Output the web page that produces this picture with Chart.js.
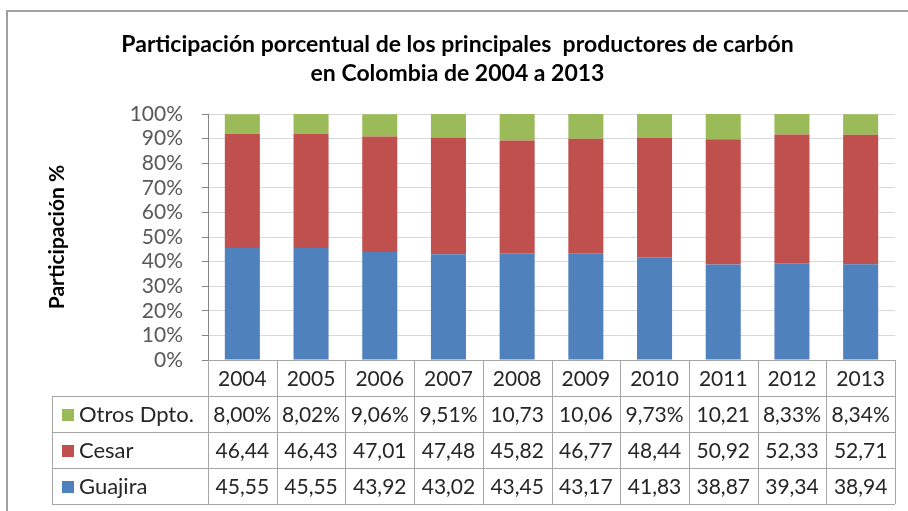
<!DOCTYPE html>
<html>
<head>
<meta charset="utf-8">
<title>Participación porcentual de los principales productores de carbón</title>
<script src="https://cdn.jsdelivr.net/npm/chart.js@4.4.1/dist/chart.umd.min.js"></script>
<style>
  html, body { margin: 0; padding: 0; background: #fff; }
  #wrap { position: relative; width: 908px; height: 511px; }
</style>
</head>
<body>
<div id="wrap"><canvas id="carbonChart" width="908" height="511"></canvas></div>
<script>
// años y participación (%) por departamento
const years = ["2004", "2005", "2006", "2007", "2008", "2009", "2010", "2011", "2012", "2013"];
const guajira = [45.55, 45.55, 43.92, 43.02, 43.45, 43.17, 41.83, 38.87, 39.34, 38.94];
const cesar = [46.44, 46.43, 47.01, 47.48, 45.82, 46.77, 48.44, 50.92, 52.33, 52.71];
const otros = [8.00, 8.02, 9.06, 9.51, 10.73, 10.06, 9.73, 10.21, 8.33, 8.34];

const seriesNames = ["Guajira", "Cesar", "Otros Dpto."];
const seriesColors = ["#4F81BD", "#C0504D", "#9BBB59"];

const FONT = "Lato, 'Open Sans', sans-serif";

function fmt(v, pct) {
    return v.toFixed(2).replace(".", ",") + (pct ? "%" : "");
}

// marco exterior del gráfico
const frame = {
    id: "frame",
    beforeDraw(chart) {
        const ctx = chart.ctx;
        ctx.save();
        ctx.fillStyle = "#fff";
        ctx.fillRect(0, 0, chart.width, chart.height);
        ctx.strokeStyle = "#a0a0a0";
        ctx.lineWidth = 2;
        ctx.strokeRect(7, 11, chart.width + 10, chart.height + 10);
        ctx.restore();
    }
};

// tabla de datos debajo de las barras
const dataTable = {
    id: "dataTable",
    afterDraw(chart) {
        const ctx = chart.ctx;
        const area = chart.chartArea;
        const xs = chart.scales.x;
        const rowH = 36;
        const top = area.bottom;
        const legendLeft = 52;
        const colW = (area.right - area.left) / years.length;
        const rows = [
            { name: seriesNames[2], color: seriesColors[2], values: otros, pct: true },
            { name: seriesNames[1], color: seriesColors[1], values: cesar, pct: false },
            { name: seriesNames[0], color: seriesColors[0], values: guajira, pct: false }
        ];

        ctx.save();
        ctx.strokeStyle = "#a6a6a6";
        ctx.lineWidth = 1;
        ctx.beginPath();
        // líneas horizontales
        ctx.moveTo(area.left, top + 0.5);
        ctx.lineTo(area.right, top + 0.5);
        for (let r = 1; r <= rows.length + 1; r++) {
            const y = Math.round(top + r * rowH) + 0.5;
            ctx.moveTo(legendLeft, y);
            ctx.lineTo(area.right, y);
        }
        // líneas verticales
        for (let i = 0; i <= years.length; i++) {
            const x = Math.round(area.left + i * colW) + 0.5;
            ctx.moveTo(x, top);
            ctx.lineTo(x, top + (rows.length + 1) * rowH);
        }
        ctx.moveTo(legendLeft + 0.5, top + rowH);
        ctx.lineTo(legendLeft + 0.5, top + (rows.length + 1) * rowH);
        ctx.stroke();

        ctx.font = "21px " + FONT;
        ctx.fillStyle = "#262626";
        ctx.textAlign = "center";
        ctx.textBaseline = "middle";
        years.forEach((yr, i) => {
            ctx.fillText(yr, xs.getPixelForValue(i), top + rowH / 2 + 1);
        });

        rows.forEach((row, r) => {
            const cy = top + (r + 1.5) * rowH + 1;
            ctx.fillStyle = row.color;
            ctx.fillRect(legendLeft + 10, cy - 6, 12, 12);
            ctx.fillStyle = "#262626";
            ctx.textAlign = "left";
            ctx.font = "22px " + FONT;
            ctx.fillText(row.name, legendLeft + 27, cy);
            ctx.font = "21px " + FONT;
            ctx.textAlign = "center";
            row.values.forEach((v, i) => {
                let txt = fmt(v, row.pct);
                if (ctx.measureText(txt).width > colW) txt = fmt(v, false);
                ctx.fillText(txt, xs.getPixelForValue(i), cy);
            });
        });
        ctx.restore();
    }
};

const datasets = [guajira, cesar, otros].map((vals, i) => ({
    label: seriesNames[i],
    data: vals,
    backgroundColor: seriesColors[i],
    borderWidth: 0,
    categoryPercentage: 1,
    barPercentage: 0.51
}));

new Chart(document.getElementById("carbonChart"), {
    type: "bar",
    data: { labels: years, datasets: datasets },
    options: {
        responsive: false,
        animation: false,
        layout: { padding: { left: 20, right: 13, top: 0, bottom: 151 } },
        plugins: {
            legend: { display: false },
            tooltip: { enabled: false },
            title: {
                display: true,
                text: [
                    "Participación porcentual de los principales  productores de carbón",
                    "en Colombia de 2004 a 2013"
                ],
                color: "#000",
                font: { family: FONT, size: 23, weight: "bold", lineHeight: 1.22 },
                padding: { top: 31, bottom: 27 }
            }
        },
        scales: {
            x: {
                stacked: true,
                display: false
            },
            y: {
                stacked: true,
                min: 0,
                max: 100,
                afterFit(scale) { scale.width = 188; },
                ticks: {
                    stepSize: 10,
                    autoSkip: false,
                    padding: 19,
                    color: "#595959",
                    font: { family: FONT, size: 21, lineHeight: 1 },
                    callback: v => v + "%"
                },
                grid: { color: "#d9d9d9", tickLength: 6, tickColor: "#868686" },
                border: { color: "#868686" },
                title: {
                    display: true,
                    text: "Participación %",
                    color: "#000",
                    font: { family: FONT, size: 21, weight: "bold", lineHeight: 1.2 },
                    padding: { top: 25, bottom: 0 }
                }
            }
        }
    },
    plugins: [frame, dataTable]
});
</script>
</body>
</html>
